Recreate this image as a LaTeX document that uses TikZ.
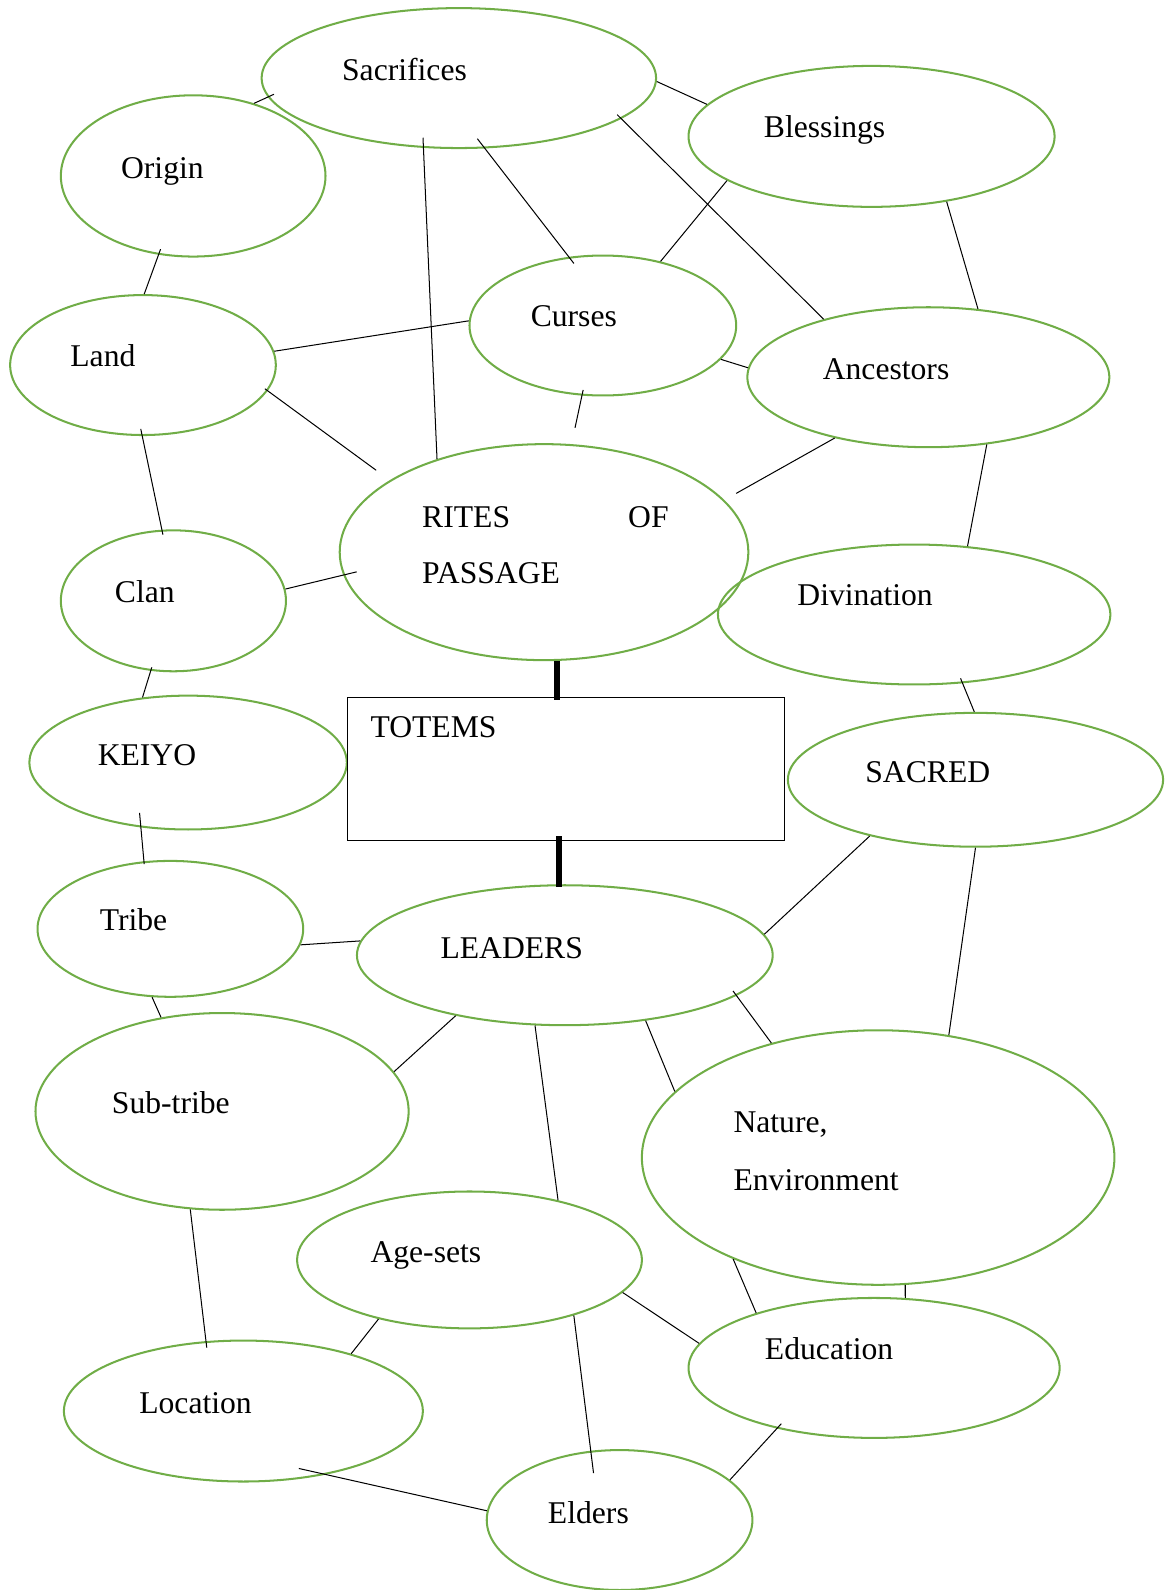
\documentclass[tikz,border=0pt]{standalone}
\usepackage{fontspec}
\setmainfont{Liberation Serif}
\usetikzlibrary{calc, shapes.geometric}
\definecolor{LeafGreen}{RGB}{112,173,71}
\tikzset{%
  bubble/.style={%
    ellipse,%
    draw=LeafGreen,%
    line width=1pt,%
    inner sep=0pt,%
  },
  totem_box/.style={%
    rectangle,%
    draw=black,%
    line width=0.6pt,%
    inner sep=0pt,%
  },
  tag/.style={%
    anchor=base west,%
    inner sep=0pt,%
    font={\fontsize{15.6}{27.5}\selectfont},%
  },
  link/.style={%
    line width=0.5pt,%
  },
  stem/.style={%
    line width=3pt,%
  },
}

\begin{document}
\begin{tikzpicture}[x=0.5pt, y=-0.5pt]
    \useasboundingbox (0,0) rectangle (1148,1568);

    % bubbles
    \node [bubble, minimum width=194.5pt, minimum height=69pt] (Sacrifices) at (452.5,77) {};
    \node [bubble, minimum width=180.5pt, minimum height=69.5pt] (Blessings) at (859.5,134.5) {};
    \node [bubble, minimum width=130.5pt, minimum height=79.5pt] (Origin) at (190.5,173.5) {};
    \node [bubble, minimum width=131.5pt, minimum height=69pt] (Curses) at (594.5,321) {};
    \node [bubble, minimum width=131pt, minimum height=69pt] (Land) at (141,360) {};
    \node [bubble, minimum width=178.5pt, minimum height=69pt] (Ancestors) at (915.5,372) {};
    \node [bubble, minimum width=201.5pt, minimum height=106.5pt] (Rites) at (536.5,544.5) {};
    \node [bubble, minimum width=193.5pt, minimum height=69pt] (Divination) at (901.5,606) {};
    \node [bubble, minimum width=111pt, minimum height=69.5pt] (Clan) at (171,592.5) {};
    \node [bubble, minimum width=156.5pt, minimum height=66pt] (Keiyo) at (185.5,752) {};
    \node [bubble, minimum width=185pt, minimum height=66pt] (Sacred) at (962,769) {};
    \node [bubble, minimum width=131pt, minimum height=67pt] (Tribe) at (168,916) {};
    \node [bubble, minimum width=205pt, minimum height=69pt] (Leaders) at (557,942) {};
    \node [bubble, minimum width=184pt, minimum height=97pt] (Subtribe) at (219,1096) {};
    \node [bubble, minimum width=233pt, minimum height=125.5pt] (Nature) at (866,1141.5) {};
    \node [bubble, minimum width=170pt, minimum height=67.5pt] (Agesets) at (463,1242.5) {};
    \node [bubble, minimum width=183pt, minimum height=69pt] (Education) at (862,1349) {};
    \node [bubble, minimum width=177pt, minimum height=69.5pt] (Location) at (240,1391.5) {};
    \node [bubble, minimum width=131pt, minimum height=69pt] (Elders) at (611,1499) {};
    \node [totem_box, minimum width=215.5pt, minimum height=70.5pt] (Totems) at (558.5,758.5) {};

    % texts
    \node [tag] (Sacrifices_label) at (337,79) {Sacrifices};
    \node [tag] (Blessings_label) at (753,136) {Blessings};
    \node [tag] (Origin_label) at (119,176) {Origin};
    \node [tag] (Curses_label) at (523,322) {Curses};
    \node [tag] (Land_label) at (69,361) {Land};
    \node [tag] (Ancestors_label) at (811,374) {Ancestors};
    \node [tag, text width=121.5pt] (Rites_label) at (416,520) {RITES\hfill OF\\PASSAGE};
    \node [tag] (Divination_label) at (786,597) {Divination};
    \node [tag] (Clan_label) at (113,594) {Clan};
    \node [tag] (Totems_label) at (365,727) {TOTEMS};
    \node [tag] (Keiyo_label) at (96,755) {KEIYO};
    \node [tag] (Sacred_label) at (853,772) {SACRED};
    \node [tag] (Tribe_label) at (98,918) {Tribe};
    \node [tag] (Leaders_label) at (434,945) {LEADERS};
    \node [tag] (Subtribe_label) at (110,1098) {Sub-tribe};
    \node [tag, text width=100pt] (Nature_label) at (723,1117) {Nature,\\[1pt]Environment};
    \node [tag] (Agesets_label) at (365,1245) {Age-sets};
    \node [tag] (Education_label) at (754,1341) {Education};
    \node [tag] (Location_label) at (137,1394) {Location};
    \node [tag] (Elders_label) at (540,1502) {Elders};

    % links
    \draw [link] (Origin.50) -- ($(Sacrifices)!0.96!(Sacrifices.185)$);
    \draw [link] (Sacrifices.-1.5) -- (Blessings.169.3);
    \draw [link] ($(Sacrifices)!0.86!(Sacrifices.239.3)$) -- (Rites.139.1);
    \draw [link] ($(Sacrifices)!0.86!(Sacrifices.287.4)$) -- ($(Curses)!0.9!(Curses.115.4)$);
    \draw [link] ($(Sacrifices)!0.95!(Sacrifices.347)$) -- (Ancestors.151.8);
    \draw [link] (Blessings.197.1) -- (Curses.48.3);
    \draw [link] (Blessings.319.9) -- (Ancestors.54.3);
    \draw [link] ($(Origin)!0.93!(Origin.246.2)$) -- (Land.89.2);
    \draw [link] (Land.6.6) -- (Curses.178.7);
    \draw [link] (Curses.344.9) -- (Ancestors.177.4);
    \draw [link] ($(Curses)!0.92!(Curses.253.6)$) -- ($(Rites)!1.15!(Rites.76.4)$);
    \draw [link] ($(Land)!0.97!(Land.349.1)$) -- ($(Rites)!1.11!(Rites.154.9)$);
    \draw [link] (Ancestors.213.5) -- ($(Rites)!1.08!(Rites.17.2)$);
    \draw [link] (Ancestors.311.1) -- (Divination.52.7);
    \draw [link] ($(Land)!0.9!(Land.268.2)$) -- ($(Clan)!0.93!(Clan.99.7)$);
    \draw [link] (Clan.6) -- ($(Rites)!0.93!(Rites.186)$);
    \draw [link] ($(Clan)!0.95!(Clan.252.8)$) -- (Keiyo.125.1);
    \draw [link] ($(Divination)!0.93!(Divination.306.9)$) -- (Sacred.91.8);
    \draw [link] ($(Keiyo)!0.8!(Keiyo.226.5)$) -- ($(Tribe)!0.96!(Tribe.112.4)$);
    \draw [link] (Sacred.208.5) -- (Leaders.6.4);
    \draw [link] (Sacred.270) -- (Nature.60.7);
    \draw [link] (Tribe.353.9) -- (Leaders.176.6);
    \draw [link] (Tribe.255.3) -- (Subtribe.123.8);
    \draw [link] (Leaders.209.7) -- (Subtribe.13.7);
    \draw [link] (Leaders.247.9) -- (Agesets.34.1);
    \draw [link] (Leaders.321.3) -- (Nature.162.6);
    \draw [link] ($(Leaders)!0.95!(Leaders.348.9)$) -- (Nature.133.5);
    \draw [link] (Subtribe.252.8) -- ($(Location)!0.91!(Location.120.3)$);
    \draw [link] (Nature.215.7) -- (Education.155.3);
    \draw [link] (Nature.282.1) -- (Education.66.6);
    \draw [link] (Agesets.348.2) -- (Education.172);
    \draw [link] (Agesets.213.2) -- (Location.28.7);
    \draw [link] (Agesets.332.5) -- ($(Elders)!0.69!(Elders.119.5)$);
    \draw [link] ($(Education)!0.93!(Education.211.7)$) -- (Elders.20);
    \draw [link] ($(Location)!0.86!(Location.314.7)$) -- (Elders.176.1);

    % stems to the totems box
    \draw [stem, shorten >=-1.5pt] (Rites.277.8) -- (Rites.277.8 |- Totems.north);
    \draw [stem, shorten <=-2.5pt, shorten >=-1.5pt] (Leaders.95 |- Totems.south) -- (Leaders.95);
\end{tikzpicture}
\end{document}
